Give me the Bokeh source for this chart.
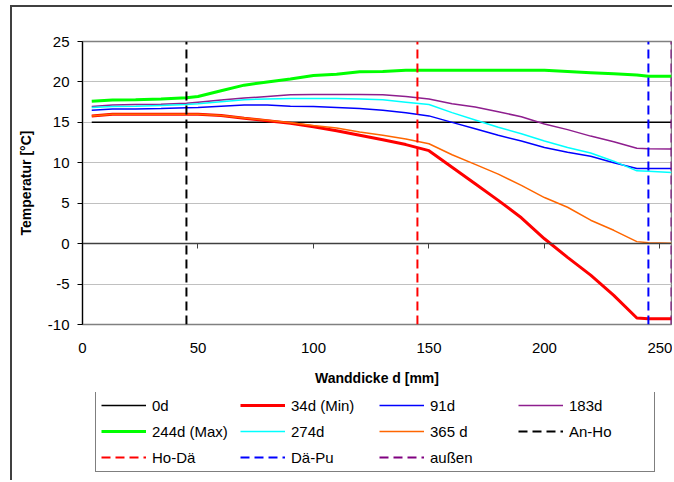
from bokeh.plotting import figure
from bokeh.layouts import column
from bokeh.models import (Range1d, LinearAxis, Legend, LegendItem, FixedTicker,
                          CustomJSTickFormatter)
from bokeh.embed import file_html
from bokeh.resources import INLINE

# ---- data ----
d = [4, 13, 23, 34, 45, 50, 60, 70, 80, 90, 100, 110, 120, 130, 140, 150,
     160, 170, 180, 190, 200, 210, 220, 230, 240, 245, 255]

d_0d = [4, 255]
t_0d = [15.0, 15.0]

t_34d = [15.8, 16.0, 16.0, 16.0, 16.0, 16.0, 15.85, 15.5, 15.2, 14.9, 14.45, 13.95,
         13.4, 12.85, 12.25, 11.5, 9.45, 7.4, 5.35, 3.2, 0.6, -1.7, -3.9, -6.4,
         -9.2, -9.3, -9.3]
t_91d = [16.5, 16.65, 16.65, 16.7, 16.8, 16.85, 17.0, 17.15, 17.15, 17.0, 16.95,
         16.85, 16.7, 16.5, 16.2, 15.8, 15.0, 14.2, 13.4, 12.7, 11.9, 11.3, 10.8,
         10.0, 9.3, 9.3, 9.3]
t_183d = [16.95, 17.15, 17.2, 17.25, 17.35, 17.5, 17.75, 18.0, 18.2, 18.4, 18.45,
          18.45, 18.45, 18.4, 18.2, 17.9, 17.3, 16.9, 16.3, 15.7, 14.8, 14.1, 13.3,
          12.6, 11.8, 11.75, 11.7]
t_244d = [17.6, 17.75, 17.8, 17.9, 18.05, 18.2, 18.9, 19.6, 20.0, 20.35, 20.8,
          20.95, 21.25, 21.3, 21.45, 21.45, 21.45, 21.45, 21.45, 21.45, 21.45, 21.3,
          21.15, 21.0, 20.85, 20.7, 20.7]
t_274d = [16.85, 16.95, 17.0, 17.1, 17.2, 17.3, 17.55, 17.8, 17.9, 17.95, 17.95,
          17.95, 17.9, 17.8, 17.5, 17.2, 16.2, 15.3, 14.4, 13.6, 12.7, 11.9, 11.2,
          10.2, 9.0, 8.95, 8.8]
t_365d = [15.8, 16.0, 16.0, 16.0, 16.0, 16.0, 15.85, 15.55, 15.25, 14.95, 14.6,
          14.3, 13.8, 13.4, 12.95, 12.35, 11.0, 9.8, 8.6, 7.2, 5.7, 4.5, 2.9, 1.65,
          0.25, 0.1, 0.05]

# layer boundaries (dashed verticals)
boundary_names = ["An-Ho", "Ho-Dä", "Dä-Pu", "außen"]
boundary_pos = [45, 145, 245, 255]

x_ticks = [0, 50, 100, 150, 200, 250]
y_ticks = [-10, -5, 0, 5, 10, 15, 20, 25]
x_min, x_max = 0, 255
y_min, y_max = -10, 25

FONT = "Liberation Sans"

p = figure(width=660, height=385, output_backend="svg",
           toolbar_location=None, x_range=Range1d(x_min, x_max),
           y_range=Range1d(y_min, y_max),
           min_border_left=70, min_border_top=34, min_border_right=1,
           min_border_bottom=68)
p.background_fill_color = "white"
p.border_fill_color = "white"
p.outline_line_color = "#808080"
p.outline_line_width = 1.5

# grid
p.xgrid.grid_line_color = None
p.ygrid.ticker = FixedTicker(ticks=y_ticks)
p.ygrid.grid_line_color = "#C0C0C0"
p.ygrid.grid_line_width = 1

# y axis
ya = p.yaxis[0]
ya.ticker = FixedTicker(ticks=y_ticks)
ya.formatter = CustomJSTickFormatter(code="return tick.toString()")
ya.axis_line_color = "black"
ya.axis_line_width = 1.2
ya.major_tick_out = 5
ya.major_tick_in = 0
ya.major_tick_line_color = "black"
ya.minor_tick_line_color = None
ya.major_label_standoff = 8
ya.major_label_text_font = FONT
ya.major_label_text_font_size = "15px"
ya.major_label_text_color = "black"
ya.axis_label = "Temperatur [°C]"
ya.axis_label_text_font = FONT
ya.axis_label_text_font_style = "bold"
ya.axis_label_text_font_size = "14px"
ya.axis_label_text_color = "black"
ya.axis_label_standoff = 11

# x axis drawn at y = 0 (line + ticks only)
xa = p.xaxis[0]
xa.fixed_location = 0
xa.ticker = FixedTicker(ticks=x_ticks)
xa.formatter = CustomJSTickFormatter(code="return ''")
xa.axis_line_color = "#404040"
xa.axis_line_width = 1.5
xa.major_tick_out = 5
xa.major_tick_in = 0
xa.major_tick_line_color = "#404040"
xa.minor_tick_line_color = None
xa.major_label_standoff = 0

# x axis labels at the bottom
xb = LinearAxis(ticker=FixedTicker(ticks=x_ticks))
xb.axis_line_color = None
xb.major_tick_line_color = None
xb.minor_tick_line_color = None
xb.major_label_standoff = 12
xb.major_label_text_font = FONT
xb.major_label_text_font_size = "15px"
xb.major_label_text_color = "black"
xb.axis_label = "Wanddicke d [mm]"
xb.axis_label_text_font = FONT
xb.axis_label_text_font_style = "bold"
xb.axis_label_text_font_size = "14px"
xb.axis_label_text_color = "black"
xb.axis_label_standoff = 14
p.add_layout(xb, "below")

# series styles
styles = {
    "0d": dict(line_color="black", line_width=1.5),
    "34d (Min)": dict(line_color="#FF0000", line_width=3),
    "91d": dict(line_color="#0000FF", line_width=1.5),
    "183d": dict(line_color="#8E1E8E", line_width=1.5),
    "244d (Max)": dict(line_color="#00FF00", line_width=3),
    "274d": dict(line_color="#00FFFF", line_width=1.5),
    "365 d": dict(line_color="#FF6600", line_width=1.5),
}
b_colors = ["black", "#FF0000", "#0000FF", "#800080"]
for name, col in zip(boundary_names, b_colors):
    styles[name] = dict(line_color=col, line_width=2, line_dash="9 5")

series = {
    "0d": (d_0d, t_0d),
    "34d (Min)": (d, t_34d),
    "91d": (d, t_91d),
    "183d": (d, t_183d),
    "244d (Max)": (d, t_244d),
    "274d": (d, t_274d),
    "365 d": (d, t_365d),
}
for name, pos in zip(boundary_names, boundary_pos):
    series[name] = ([pos, pos], [y_min, y_max])

for name, (xs, ys) in series.items():
    p.line(xs, ys, **styles[name])

# ---- legend strip below the chart (same series, ranges kept off-view) ----
lg = figure(width=660, height=88, output_backend="svg", toolbar_location=None,
            x_range=Range1d(1000, 1001), y_range=Range1d(1000, 1001),
            x_axis_location=None, y_axis_location=None,
            min_border_left=70, min_border_top=0, min_border_right=1,
            min_border_bottom=0)
lg.outline_line_color = None
lg.grid.grid_line_color = None
lg.background_fill_color = "white"
lg.border_fill_color = "white"

# column-major order for a 3 x 4 grid
legend_order = ["0d", "244d (Max)", "Ho-Dä",
                "34d (Min)", "274d", "Dä-Pu",
                "91d", "365 d", "außen",
                "183d", "An-Ho"]
items = []
for lab in legend_order:
    xs, ys = series[lab]
    r = lg.line(xs, ys, **styles[lab])
    items.append(LegendItem(label=lab, renderers=[r]))

legend = Legend(items=items, orientation="vertical", nrows=3, ncols=4,
                location=(13, 8))
legend.label_text_font = FONT
legend.label_text_font_size = "15px"
legend.label_text_color = "black"
legend.glyph_width = 45
legend.glyph_height = 18
legend.label_height = 18
legend.label_width = 80
legend.label_standoff = 6
legend.spacing = 8
legend.padding = 5
legend.margin = 0
legend.border_line_color = "black"
legend.border_line_width = 1
legend.background_fill_color = "white"
lg.add_layout(legend)

layout = column(p, lg, spacing=0,
                styles={"margin-left": "10px", "margin-top": "5px",
                        "border-left": "2px solid #404040",
                        "border-top": "2px solid #404040"})
open("out.html", "w").write(file_html(layout, INLINE))
